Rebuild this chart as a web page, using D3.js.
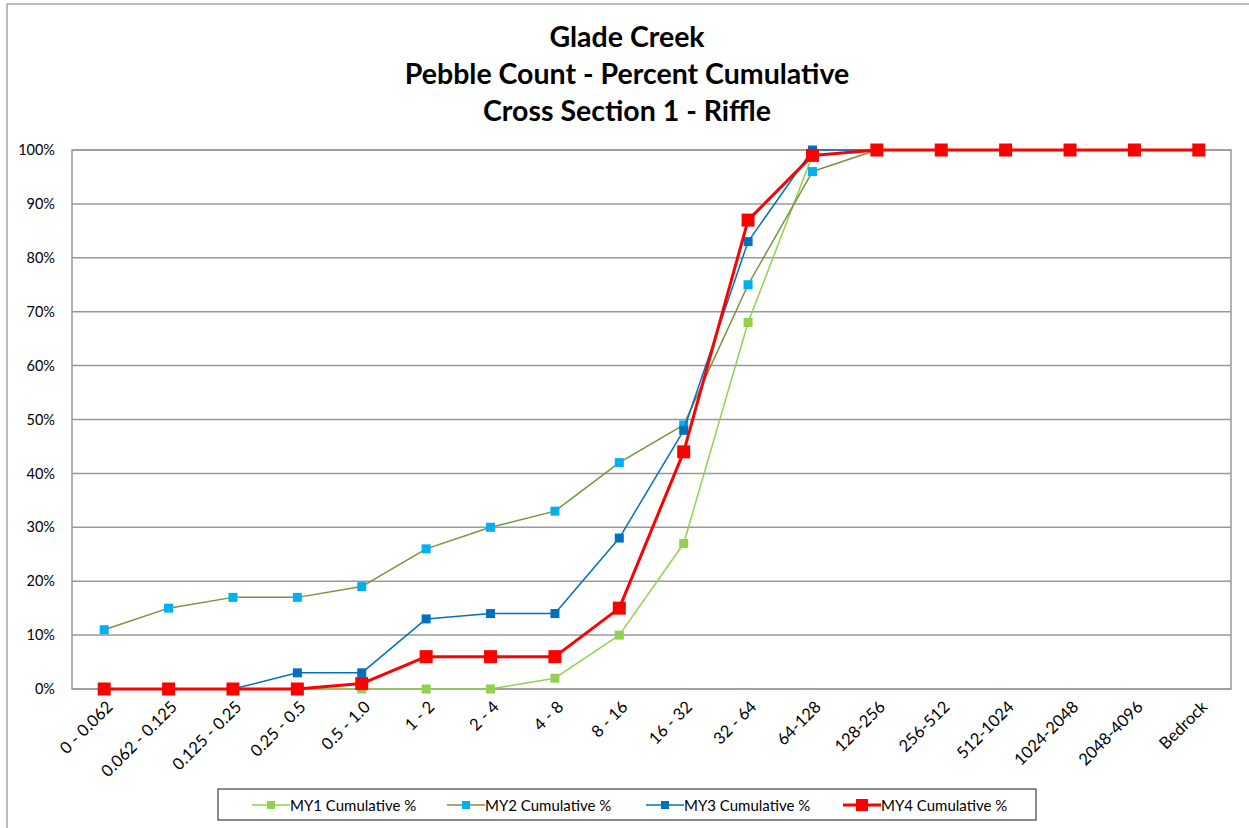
<!DOCTYPE html>
<html><head><meta charset="utf-8">
<script src="https://cdn.jsdelivr.net/npm/d3@7"></script>
<style>body{margin:0;background:#fff;} text{font-family:Lato,"Open Sans",sans-serif;}</style>
</head><body>
<svg id="chart" width="1249" height="828"></svg>
<script>
const categories = ["0 - 0.062","0.062 - 0.125","0.125 - 0.25","0.25 - 0.5","0.5 - 1.0","1 - 2","2 - 4","4 - 8","8 - 16","16 - 32","32 - 64","64-128","128-256","256-512","512-1024","1024-2048","2048-4096","Bedrock"];
const my1 = [0,0,0,0,0,0,0,2,10,27,68,99,100,100,100,100,100,100];
const my2 = [11,15,17,17,19,26,30,33,42,49,75,96,100,100,100,100,100,100];
const my3 = [0,0,0,3,3,13,14,14,28,48,83,100,100,100,100,100,100,100];
const my4 = [0,0,0,0,1,6,6,6,15,44,87,99,100,100,100,100,100,100];
const yTicks = [0,10,20,30,40,50,60,70,80,90,100];
const seriesNames = ["MY1 Cumulative %","MY2 Cumulative %","MY3 Cumulative %","MY4 Cumulative %"];
const titleLines = ["Glade Creek","Pebble Count - Percent Cumulative","Cross Section 1 - Riffle"];

const series = [
  {name:seriesNames[0], values:my1, line:"#92D050", marker:"#92D050", lw:1.5, ms:9},
  {name:seriesNames[1], values:my2, line:"#77933C", marker:"#00B0F0", lw:1.5, ms:9},
  {name:seriesNames[2], values:my3, line:"#0070C0", marker:"#0070C0", lw:1.5, ms:9},
  {name:seriesNames[3], values:my4, line:"#FF0000", marker:"#FF0000", lw:3, ms:13}
];

const svg = d3.select("#chart");
const m = {left:72, right:1231, top:150, bottom:689};

// outer frame
svg.append("rect").attr("x",7).attr("y",4).attr("width",1260).attr("height",840)
  .attr("fill","none").attr("stroke","#a6a6a6").attr("stroke-width",1.5);

// title
svg.append("g").selectAll("text").data(titleLines).join("text")
  .attr("x",627).attr("y",(d,i)=>47+i*37).attr("text-anchor","middle")
  .attr("font-size",28.5).attr("font-weight","bold").attr("fill","#000").text(d=>d);

const x = d3.scalePoint().domain(categories).range([m.left, m.right]).padding(0.5);
const y = d3.scaleLinear().domain([0,100]).range([m.bottom, m.top]);

// gridlines
svg.append("g").selectAll("line").data(yTicks).join("line")
  .attr("x1",m.left).attr("x2",m.right).attr("y1",d=>y(d)).attr("y2",d=>y(d))
  .attr("stroke","#999").attr("stroke-width",1.5);
svg.append("rect").attr("x",m.left).attr("y",m.top).attr("width",m.right-m.left).attr("height",m.bottom-m.top)
  .attr("fill","none").attr("stroke","#999").attr("stroke-width",1.5);

// y axis
const yAxis = svg.append("g").attr("transform",`translate(${m.left},0)`)
  .call(d3.axisLeft(y).tickValues(yTicks).tickFormat(d=>d+"%").tickSize(0).tickPadding(17));
yAxis.select(".domain").remove();
yAxis.selectAll("text").attr("font-size",14.5).attr("fill","#000").style("font-family","Lato,sans-serif");

// x axis
const xAxis = svg.append("g").attr("transform",`translate(0,${m.bottom})`)
  .call(d3.axisBottom(x).tickSize(0).tickPadding(0));
xAxis.select(".domain").remove();
xAxis.selectAll("text").attr("font-size",16.5).attr("fill","#000").style("font-family","Lato,sans-serif")
  .attr("text-anchor","end").attr("dy",0).attr("y",0)
  .attr("transform","translate(9,19) rotate(-45)");

// series
const line = d3.line().x((d,i)=>x(categories[i])).y(d=>y(d));
series.forEach(s=>{
  const g = svg.append("g");
  g.append("path").datum(s.values).attr("d",line).attr("fill","none")
    .attr("stroke",s.line).attr("stroke-width",s.lw).attr("stroke-linejoin","round");
  g.selectAll("rect").data(s.values).join("rect")
    .attr("x",(d,i)=>x(categories[i])-s.ms/2).attr("y",d=>y(d)-s.ms/2)
    .attr("width",s.ms).attr("height",s.ms).attr("fill",s.marker);
});

// legend
const lg = svg.append("g");
lg.append("rect").attr("x",218).attr("y",789).attr("width",818).attr("height",31)
  .attr("fill","#fff").attr("stroke","#404040").attr("stroke-width",1.2);
const lx = [252,447,646,843];
series.forEach((s,i)=>{
  const g = lg.append("g").attr("transform",`translate(${lx[i]},805)`);
  g.append("line").attr("x1",0).attr("x2",38).attr("y1",0).attr("y2",0)
    .attr("stroke",s.line).attr("stroke-width",s.lw);
  const ms = i===3?12:8;
  g.append("rect").attr("x",19-ms/2).attr("y",-ms/2).attr("width",ms).attr("height",ms).attr("fill",s.marker);
  g.append("text").attr("x",38).attr("y",5.5).attr("font-size",15).attr("fill","#000").text(s.name);
});
</script>
</body></html>
